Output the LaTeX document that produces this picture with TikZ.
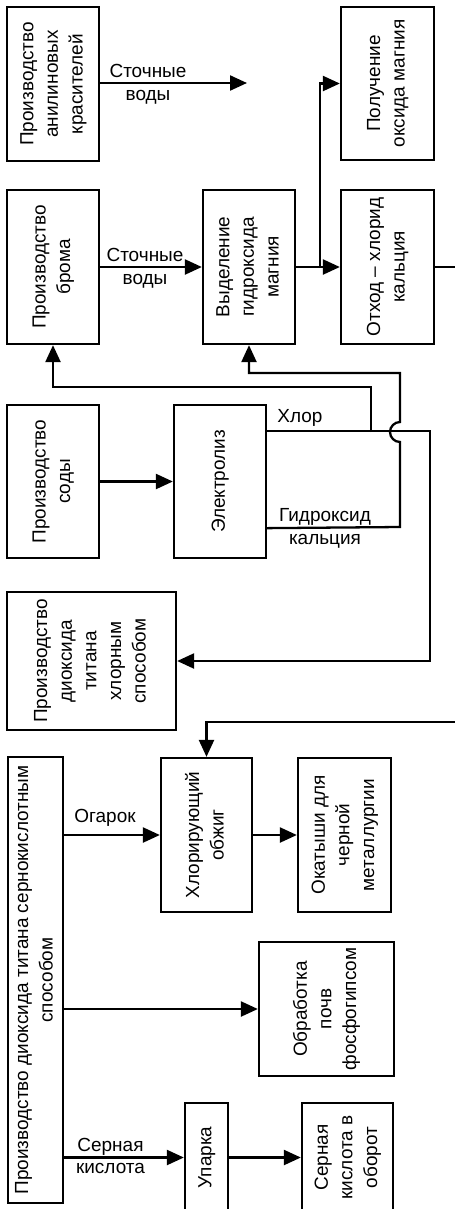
\documentclass[tikz,border=0pt]{standalone}
\usepackage{fontspec}
\setmainfont{Liberation Sans}
\usepackage{graphicx}
\usetikzlibrary{arrows.meta,positioning,calc}

\newcommand{\vtext}[1]{\rotatebox{90}{\begin{tabular}{@{}c@{}}#1\end{tabular}}}

\begin{document}
\begin{tikzpicture}[>={Triangle[length=0.34cm,width=0.3cm]},line width=1.3pt,
  box/.style={draw,inner sep=0pt,font=\fontsize{10.8}{14}\selectfont},
  lbl/.style={align=center,inner sep=0pt,font=\fontsize{10.8}{13}\selectfont}]
\useasboundingbox (0,0) rectangle (9.10,-24.18);
% upper column
\node[box,minimum width=1.84cm,minimum height=3.08cm] (anil) at (1.06,-1.68) {\vtext{Производство\\анилиновых\\красителей}};
\node[box,minimum width=1.86cm,minimum height=3.06cm] (mgo) at (7.75,-1.67) {\vtext{Получение\\оксида магния}};
\node[box,minimum width=1.84cm,minimum height=3.08cm] (brom) at (1.06,-5.34) {\vtext{Производство\\брома}};
\node[box,minimum width=1.84cm,minimum height=3.08cm] (mgoh) at (4.98,-5.34) {\vtext{Выделение\\гидроксида\\магния}};
\node[box,minimum width=1.86cm,minimum height=3.08cm] (cacl) at (7.75,-5.34) {\vtext{Отход -- хлорид\\кальция}};
\node[box,minimum width=1.84cm,minimum height=3.06cm] (soda) at (1.06,-9.63) {\vtext{Производство\\соды}};
\node[box,minimum width=1.84cm,minimum height=3.06cm] (elec) at (4.40,-9.63) {\vtext{Электролиз}};
\node[box,minimum width=3.38cm,minimum height=2.76cm] (ticl) at (1.83,-13.22) {\vtext{Производство\\диоксида\\титана\\хлорным\\способом}};
% lower column
\node[box,minimum width=1.10cm,minimum height=8.92cm] (tiso) at (0.71,-19.60) {\vtext{Производство диоксида титана сернокислотным\\способом}};
\node[box,minimum width=1.82cm,minimum height=3.08cm] (obzh) at (4.13,-16.70) {\vtext{Хлорирующий\\обжиг}};
\node[box,minimum width=1.86cm,minimum height=3.08cm] (okat) at (6.89,-16.70) {\vtext{Окатыши для\\черной\\металлургии}};
\node[box,minimum width=2.70cm,minimum height=2.68cm] (fosf) at (6.53,-20.18) {\vtext{Обработка\\почв\\фосфогипсом}};
\node[box,minimum width=0.86cm,minimum height=2.18cm] (upar) at (4.13,-23.15) {\vtext{Упарка}};
\node[box,minimum width=1.82cm,minimum height=2.18cm] (acid) at (6.95,-23.15) {\vtext{Серная\\кислота в\\оборот}};

\coordinate (waste) at (4.94,-1.66);
\coordinate (fork) at (6.40,-5.36);
\coordinate (edge) at (9.18,-14.44);
\coordinate (cl) at ([yshift=-0.54cm]elec.north east);
\coordinate (oh) at ([yshift=0.62cm]elec.south east);
\coordinate (tap) at (7.42,-8.64);

\draw[->] (anil.east |- waste) -- (waste);
\node[lbl] at (2.96,-1.68) {Сточные\\воды};
\draw[->] (brom) -- (mgoh);
\node[lbl] at (2.90,-5.36) {Сточные\\воды};
\draw[->] (mgoh) -- (cacl);
\draw[->] (fork) |- (mgo);
\draw[->] (cacl.east) -| (edge) -| (obzh.north);
\draw[->] (soda) -- (elec);
% chlorine and calcium hydroxide
\draw[->] (cl) -| (8.60,-13.22) -- (ticl.east);
\node[lbl,anchor=south] at (6.00,-8.56) {Хлор};
\draw[->] (tap) -- (7.42,-7.74) -| (brom.south);
\draw[->] (oh) -- (8.00,-10.54) -- (8.00,-8.84) arc[start angle=270,end angle=90,radius=0.2cm]
  -- (8.00,-7.46) -| (mgoh.south);
\node[lbl] at (6.50,-10.56) {Гидроксид\\кальция};
% sulphate route
\draw[->] (tiso.east |- obzh.west) -- (obzh.west);
\node[lbl,anchor=south] at (2.10,-16.56) {Огарок};
\draw[->] (obzh) -- (okat);
\draw[->] (tiso.east |- fosf.west) -- (fosf.west);
\draw[->] (tiso.east |- upar.west) -- (upar.west);
\node[lbl] at (2.21,-23.12) {Серная\\кислота};
\draw[->] (upar) -- (acid);
\end{tikzpicture}
\end{document}
